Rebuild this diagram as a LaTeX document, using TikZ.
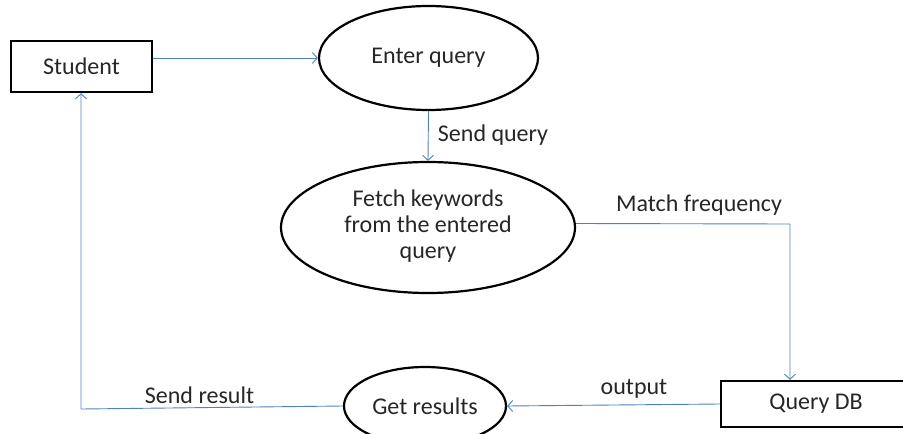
\documentclass[tikz,border=0pt]{standalone}
\usepackage{fontspec}
\setmainfont{Carlito}
\usetikzlibrary{arrows.meta,shapes.geometric}
\definecolor{flowblue}{RGB}{79,129,189}
\definecolor{txt}{RGB}{38,38,38}
\begin{document}
\begin{tikzpicture}[x=1pt,y=-1pt,
  every node/.style={font=\fontsize{24}{26}\selectfont, text=txt},
  entity/.style={draw=black, line width=2.4pt, rectangle, inner sep=0pt},
  process/.style={draw=black, line width=2.2pt, ellipse, inner sep=0pt, align=center},
  flow/.style={draw=flowblue, line width=0.9pt, -{Straight Barb[length=5pt,width=11pt]}},
  lbl/.style={inner sep=0pt}]
\useasboundingbox (0,0) rectangle (903,434);
\node[entity, minimum width=141pt, minimum height=51pt] (student) at (81.5,66.5) {Student};
\node[process, minimum width=219pt, minimum height=104pt] (enter) at (428.5,58) {Enter query};
\node[process, minimum width=294pt, minimum height=131pt] (fetch) at (428,227.5) {Fetch keywords\\from the entered\\query\\[-20pt]\mbox{}};
\node[entity, minimum width=190pt, minimum height=46pt] (qdb) at (816,404) {Query DB};
\node[process, minimum width=162pt, minimum height=78pt] (gr) at (425,406) {Get results};
\coordinate (mf) at (790,224);
\coordinate (sr) at (81,409);
\draw[flow] (student.east |- enter) -- (enter.west);
\draw[flow] (enter.south) -- (fetch.north);
\draw[flow] ([yshift=4pt]fetch.east) -- (mf) -- (mf |- qdb.north);
\draw[flow] (qdb.west) -- (gr.east);
\draw[flow] (gr.west) -- (sr) -- (sr |- student.south);
\node[lbl] (l1) at (493,135) {Send query};
\node[lbl] (l2) at (699,205) {Match frequency};
\node[lbl] (l3) at (634,389) {output};
\node[lbl] (l4) at (199.5,395) {Send result};
\end{tikzpicture}
\end{document}
